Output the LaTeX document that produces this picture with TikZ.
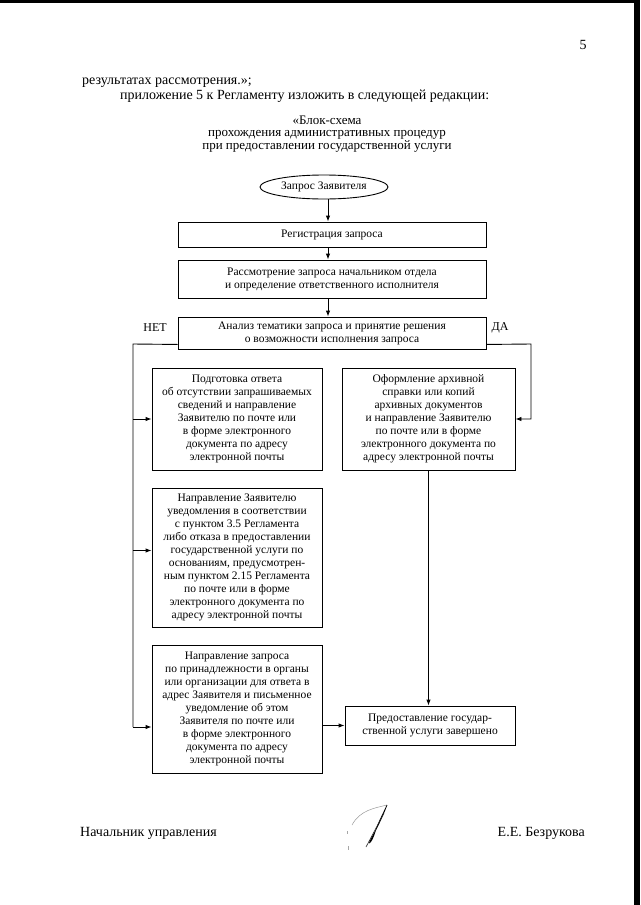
\documentclass[tikz,border=0pt]{standalone}
\usepackage{fontspec}
\setmainfont{Liberation Serif}
\usetikzlibrary{shapes.geometric,arrows.meta}
\begin{document}
\begin{tikzpicture}[x=1pt,y=-1pt,
  box/.style={draw, line width=0.9pt, align=center, font=\fontsize{11.5}{13}\selectfont, inner sep=0pt},
  arr/.style={-{Latex[length=6pt,width=4.5pt]}, line width=0.9pt},
  ln/.style={line width=0.9pt},
  body/.style={font=\fontsize{14}{15}\selectfont, inner sep=0pt},
  lbl/.style={font=\fontsize{12}{13}\selectfont, inner sep=0pt},
  scan/.style={fill=black, draw=none}]
\useasboundingbox (0,0) rectangle (640,905);
\fill[white] (0,0) rectangle (640,905);
\fill[scan] (0,0) rectangle (640,3);
\fill[scan] (634,0) rectangle (640,905);

\node[body] (pg) at (583,45) {5};
\node[body, anchor=base west] (t1) at (82,84) {результатах рассмотрения.»;};
\node[body, anchor=base west] (t2) at (120,99) {приложение 5 к Регламенту изложить в следующей редакции:};
\node[body, align=center, font=\fontsize{13}{12.5}\selectfont] (title) at (327,134)
  {«Блок-схема\\прохождения административных процедур\\при предоставлении государственной услуги};

\coordinate (ax) at (328,0);
\node[box, ellipse, minimum width=128pt, minimum height=24pt] (ell) at (324,187) {Запрос Заявителя};
\node[box, minimum width=308pt, minimum height=25pt] (b1) at (332,234.5) {Регистрация запроса};
\node[box, minimum width=308pt, minimum height=38pt] (b2) at (332,279)
  {Рассмотрение запроса начальником отдела\\и определение ответственного исполнителя};
\node[box, minimum width=308pt, minimum height=32pt] (b3) at (332,333)
  {Анализ тематики запроса и принятие решения\\о возможности исполнения запроса};
\node[lbl] (net) at (155,328) {НЕТ};
\node[lbl] (da) at (500,328) {ДА};

\node[box, minimum width=170pt, minimum height=102pt] (L1) at (237,419)
  {Подготовка ответа\\об отсутствии запрашиваемых\\сведений и направление\\Заявителю по почте или\\в форме электронного\\документа по адресу\\электронной почты};
\node[box, minimum width=173pt, minimum height=102pt] (R1) at (428.5,419)
  {Оформление архивной\\справки или копий\\архивных документов\\и направление Заявителю\\по почте или в форме\\электронного документа по\\адресу электронной почты};
\node[box, minimum width=170pt, minimum height=139pt] (L2) at (237,557.5)
  {Направление Заявителю\\уведомления в соответствии\\с пунктом 3.5 Регламента\\либо отказа в предоставлении\\государственной услуги по\\основаниям, предусмотрен-\\ным пунктом 2.15 Регламента\\по почте или в форме\\электронного документа по\\адресу электронной почты};
\node[box, minimum width=170pt, minimum height=128pt] (L3) at (237,709)
  {Направление запроса\\по принадлежности в органы\\или организации для ответа в\\адрес Заявителя и письменное\\уведомление об этом\\Заявителя по почте или\\в форме электронного\\документа по адресу\\электронной почты};
\node[box, minimum width=170pt, minimum height=39pt] (F) at (430,725.5)
  {Предоставление государ-\\ственной услуги завершено};

% main flow
\draw[arr] (ell.south -| ax) -- (b1.north -| ax);
\draw[arr] (b1.south -| ax) -- (b2.north -| ax);
\draw[arr] (b2.south -| ax) -- (b3.north -| ax);

% NO branch
\coordinate (nl) at (133,344);
\coordinate (nb) at (133,727);
\draw[ln] ([yshift=5pt]b3.south west) -- (nl) -- (nb);
\draw[arr] (nl |- L1.west) -- (L1.west);
\draw[arr] ([yshift=7pt]L2.west -| nl) -- ([yshift=7pt]L2.west);
\draw[arr] (nb) -- (nb -| L3.west);

% YES branch
\coordinate (dr) at (531,344);
\draw[arr] ([yshift=5pt]b3.south east) -- (dr) |- (R1.east);
\draw[arr] (R1.south) -- (R1.south |- F.north);
\draw[arr] (L3.east |- F.west) -- (F.west);

% signature block
\node[body, anchor=base west] (pos) at (80,836) {Начальник управления};
\node[body, anchor=base east] (nm) at (585,836) {Е.Е. Безрукова};
\draw[gray!80, line width=0.5pt] (352,825) .. controls (360,810) and (375,808) .. (387,805);
\draw[black, line width=0.7pt] (387,805) .. controls (382,818) and (376,830) .. (370,841)
  .. controls (368,845) and (372,842) .. (375,832) .. controls (379,821) and (384,812) .. (387,805);
\draw[black!85, line width=0.6pt] (384,813) -- (366,847);
\draw[gray!70, line width=0.4pt] (347,831) -- (347,834);
\draw[gray!70, line width=0.4pt] (348,846) -- (348,850);
\end{tikzpicture}
\end{document}
